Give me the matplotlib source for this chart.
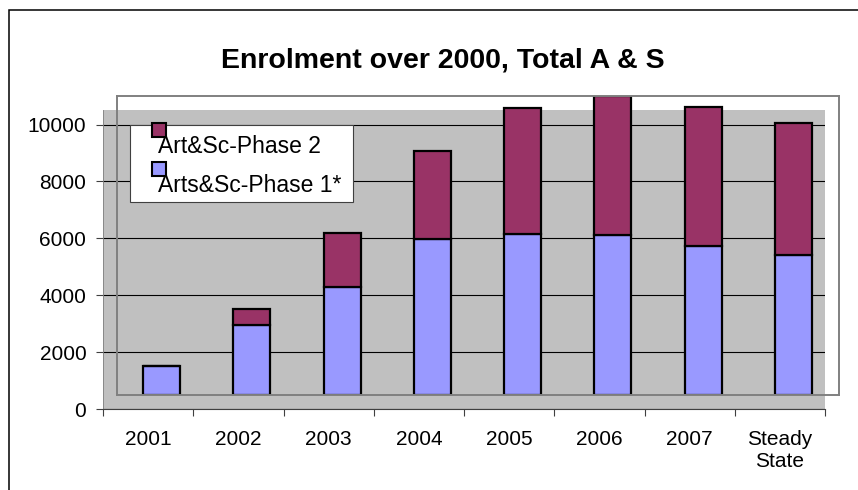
import numpy as np
import matplotlib.pyplot as plt
from matplotlib.patches import Rectangle

plt.rcParams['font.family'] = ['Liberation Sans', 'DejaVu Sans']

years = ['2001', '2002', '2003', '2004', '2005', '2006', '2007', 'Steady\nState']
phase1 = np.array([1020, 2460, 3810, 5490, 5660, 5620, 5240, 4910])
phase2 = np.array([0, 560, 1880, 3100, 4420, 4900, 4870, 4660])
series_names = ['Art&Sc-Phase 2', 'Arts&Sc-Phase 1*']
yticks = [0, 2000, 4000, 6000, 8000, 10000]

c1 = '#9999FF'
c2 = '#993366'
grey = '#C0C0C0'

W, H = 858, 490


def fx(p):
    return p / W


def fy(p):
    return 1 - p / H


fig = plt.figure(figsize=(W / 100, H / 100), dpi=100)

# main axes: grey plot area, gridlines, ticks and labels
ax = fig.add_axes([fx(103), fy(409), (825 - 103) / W, (409 - 110) / H])
ax.set_facecolor(grey)
ax.set_xlim(-0.5, len(years) - 0.5)
ax.set_ylim(0, 10510)
ax.set_yticks(yticks)
ax.set_yticklabels([str(v) for v in yticks], fontsize=15)
ax.yaxis.grid(True, color='black', linewidth=0.8)
ax.set_axisbelow(True)
ax.set_xticks(np.arange(len(years) + 1) - 0.5)
ax.set_xticklabels([])
ax.set_xticks(np.arange(len(years)), minor=True)
ax.set_xticklabels(years, minor=True, fontsize=15)
ax.tick_params(axis='x', which='major', length=5, color='#404040', width=0.8)
ax.tick_params(axis='x', which='minor', length=0, pad=15)
ax.tick_params(axis='y', length=5, color='#404040', width=0.8, pad=7)
for s in ['top', 'right']:
    ax.spines[s].set_visible(False)
ax.spines['bottom'].set_color('#404040')
ax.spines['left'].set_color('#808080')
ax.spines['left'].set_linewidth(0.6)

# shifted plot frame holding the bars
ax2 = fig.add_axes([fx(116.5), fy(395), (825 - 103) / W, (409 - 110) / H])
ax2.patch.set_alpha(0)
ax2.set_xlim(-0.5, len(years) - 0.5)
ax2.set_ylim(0, 10510)
ax2.set_xticks([])
ax2.set_yticks([])
for s in ax2.spines.values():
    s.set_color('#808080')
    s.set_linewidth(1.4)
x = np.arange(len(years))
ax2.bar(x, phase1, width=0.41, color=c1, edgecolor='black', linewidth=1.6)
ax2.bar(x, phase2, width=0.41, bottom=phase1, color=c2, edgecolor='black',
        linewidth=1.6)

# legend drawn Excel-like
fig.add_artist(Rectangle((fx(129.5), fy(202.5)), (352.5 - 129.5) / W,
                         (202.5 - 125) / H, transform=fig.transFigure,
                         facecolor='white', edgecolor='#404040', linewidth=0.8))
for name, col, top, base in [(series_names[0], c2, 123.5, 152.5),
                             (series_names[1], c1, 162.5, 191.5)]:
    fig.add_artist(Rectangle((fx(151.5), fy(top + 14)), 14 / W, 14 / H,
                             transform=fig.transFigure, facecolor=col,
                             edgecolor='black', linewidth=1.5))
    fig.text(fx(158), fy(base), name, fontsize=16.5, va='baseline', ha='left')

fig.text(fx(443), fy(60), 'Enrolment over 2000, Total A & S', fontsize=20.5,
         fontweight='bold', ha='center', va='center')

# chart border
fig.add_artist(Rectangle((fx(8.5), -0.1), 1.2, fy(9.5) + 0.1,
                         transform=fig.transFigure, facecolor='none',
                         edgecolor='black', linewidth=1.1))

fig.savefig('out.png', dpi=100)
